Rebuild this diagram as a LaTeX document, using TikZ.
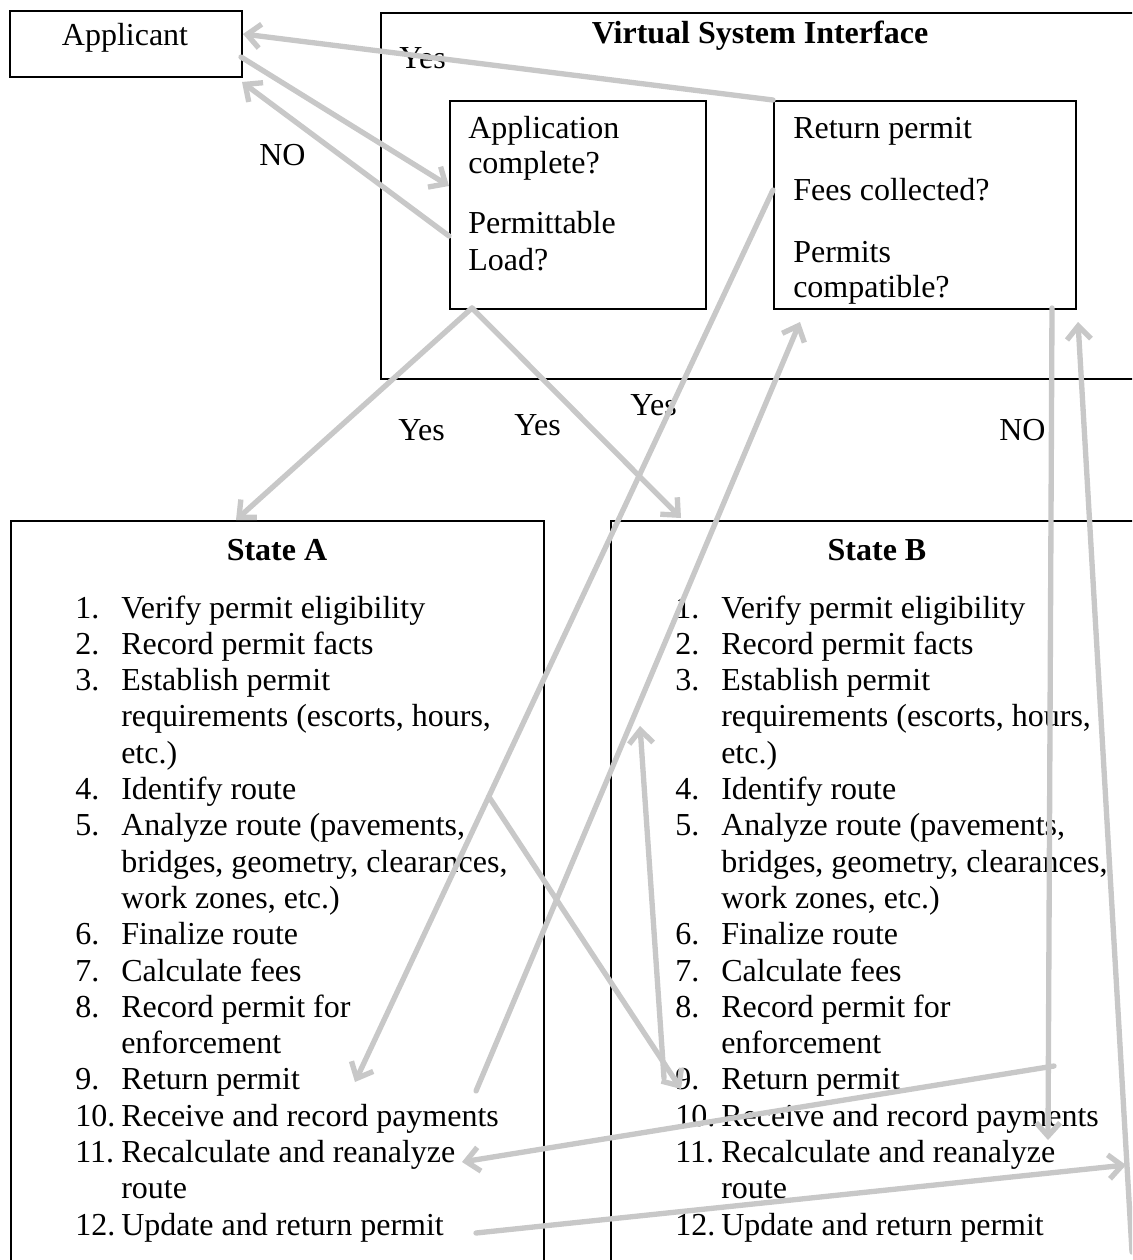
\documentclass[tikz,border=0pt]{standalone}
\usepackage{fontspec}
\setmainfont{Liberation Serif}
\usepackage{xcolor}
\usetikzlibrary{arrows.meta,calc}
\definecolor{flowgray}{RGB}{200,200,200}
\tikzset{
  boxnode/.style={draw,line width=1.4pt,inner sep=0pt,anchor=north west},
  plaintext/.style={inner sep=0pt,anchor=base west,font=\fontsize{24}{27}\selectfont},
  titletext/.style={inner sep=0pt,anchor=base,font=\fontsize{24}{27}\selectfont\bfseries},
  flowarrow/.style={draw=flowgray,line width=4pt,line cap=round,
    -{Straight Barb[length=10pt,width=18pt]}}
}

\begin{document}
\begin{tikzpicture}[x=0.75pt,y=-0.75pt]
  \useasboundingbox (0,0) rectangle (1132,1260);
  \clip (0,0) rectangle (1132,1260);

  % boxes
  \node[boxnode,minimum width=174pt,minimum height=49.5pt] (applicant) at (9,10) {};
  \node[boxnode,minimum width=573.75pt,minimum height=274.5pt] (vsi) at (380,12) {};
  \node[boxnode,minimum width=192pt,minimum height=156pt] (appchk) at (449,100) {};
  \node[boxnode,minimum width=226.5pt,minimum height=156pt] (retchk) at (773,100) {};
  \node[boxnode,minimum width=399.75pt,minimum height=566.25pt] (stateA) at (10,520) {};
  \node[boxnode,minimum width=401.25pt,minimum height=566.25pt] (stateB) at (610,520) {};

  % box texts
  \node[titletext,font=\fontsize{24}{27}\selectfont] (applicanttxt) at (125,45) {Applicant};
  \node[titletext] (vsititle) at (760,43) {Virtual System Interface};
  \node[plaintext] (appchk1) at (468,138) {Application};
  \node[plaintext] (appchk2) at (468,173) {complete?};
  \node[plaintext] (appchk3) at (468,233) {Permittable};
  \node[plaintext] (appchk4) at (468,270) {Load?};
  \node[plaintext] (retchk1) at (793,138) {Return permit};
  \node[plaintext] (retchk2) at (793,200) {Fees collected?};
  \node[plaintext] (retchk3) at (793,262) {Permits};
  \node[plaintext] (retchk4) at (793,297) {compatible?};
  \node[titletext] (stateAtitle) at (277,560) {State A};
  \node[titletext] (stateBtitle) at (877,560) {State B};

  % task lists of both states
  \foreach \sx/\st in {10/A,610/B}{
    \foreach \num/\txt [count=\k from 0] in {1./Verify permit eligibility,
        2./Record permit facts, 3./Establish permit,
        /{requirements (escorts, hours,}, /etc.), 4./Identify route,
        5./{Analyze route (pavements,}, /{bridges, geometry, clearances,},
        /{work zones, etc.)}, 6./Finalize route, 7./Calculate fees,
        8./Record permit for, /enforcement, 9./Return permit,
        10./Receive and record payments, 11./Recalculate and reanalyze,
        /route, 12./Update and return permit}{
      \node[plaintext] (\st num\k) at (\sx+65,618+36.3*\k) {\num};
      \node[plaintext] (\st line\k) at (\sx+111,618+36.3*\k) {\txt};
    }
  }

  % decision labels
  \node[plaintext] (yesret) at (399,68) {Yes};
  \node[plaintext] (noapp) at (259,165) {NO};
  \node[plaintext] (yesA) at (398,440) {Yes};
  \node[plaintext] (yesB) at (514,435) {Yes};
  \node[plaintext] (yesfee) at (630,415) {Yes};
  \node[plaintext] (nocomp) at (999,440) {NO};

  % connector ends
  \coordinate (applicant in) at (243,34);
  \coordinate (applicant out) at (241,57);
  \coordinate (applicant back) at (242,82);
  \coordinate (appchk in) at (449,186);
  \coordinate (appchk no) at (449,236);
  \coordinate (appchk split) at (472,308);
  \coordinate (stateA in) at (236,520);
  \coordinate (stateB in) at (681,518);
  \coordinate (retchk fee) at (773,190);
  \coordinate (retchk pay) at (800,322);
  \coordinate (retchk down) at (1052,308);
  \coordinate (retchk up) at (1078,322);
  \coordinate (A ret) at (355,1082);
  \coordinate (A pay) at (476,1091);
  \coordinate (A recalc) at (462,1162);
  \coordinate (A update) at (476,1233);
  \coordinate (B up) at (640,726);
  \coordinate (B ret) at (664,1078);
  \coordinate (B pay) at (681,1089);
  \coordinate (B corner) at (1054,1066);
  \coordinate (B recalc) at (1048,1140);
  \coordinate (B update) at (1126,1165);
  \coordinate (B bottom) at (1132,1252);
  \coordinate (fee branch) at ($(retchk fee)!0.68!(A ret)$);

  % connectors
  \draw[flowarrow] (retchk.north west) -- (applicant in);
  \draw[flowarrow] (applicant out) -- (appchk in);
  \draw[flowarrow] (appchk no) -- (applicant back);
  \draw[flowarrow] (appchk split) -- (stateA in);
  \draw[flowarrow] (appchk split) -- (stateB in);
  \draw[flowarrow] (retchk fee) -- (A ret);
  \draw[flowarrow] (A pay) -- (retchk pay);
  \draw[flowarrow] (fee branch) -- (B pay);
  \draw[flowarrow] (B ret) -- (B up);
  \draw[flowarrow] (retchk down) -- (B recalc);
  \draw[flowarrow] (B corner) -- (A recalc);
  \draw[flowarrow] (A update) -- (B update);
  \draw[flowarrow] (B bottom) -- (retchk up);
\end{tikzpicture}
\end{document}
